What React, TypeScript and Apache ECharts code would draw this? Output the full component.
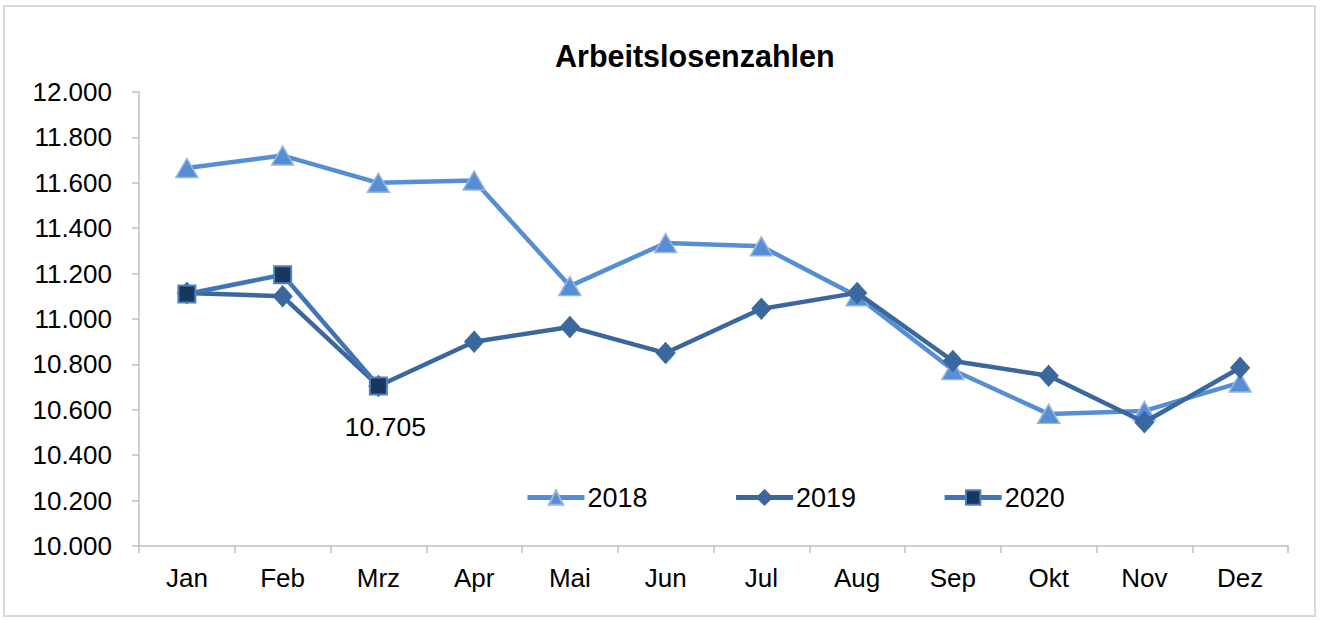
import React, { useEffect, useRef } from "react";
import * as echarts from "echarts";

const months = ["Jan", "Feb", "Mrz", "Apr", "Mai", "Jun", "Jul", "Aug", "Sep", "Okt", "Nov", "Dez"];
const s2018 = [11665, 11720, 11600, 11610, 11145, 11335, 11320, 11100, 10775, 10582, 10595, 10720];
const s2019 = [11115, 11100, 10705, 10900, 10965, 10850, 11045, 11115, 10815, 10750, 10545, 10785];
const s2020 = [11110, 11195, 10705, null, null, null, null, null, null, null, null, null];
const yTicks = { min: 10000, max: 12000, interval: 200 };

const fmt = (v: number) => {
  const s = Math.round(v).toString();
  return s.slice(0, s.length - 3) + "." + s.slice(-3);
};

export default function App() {
  const ref = useRef<HTMLDivElement>(null);
  useEffect(() => {
    const chart = echarts.init(ref.current!, null, { renderer: "svg" });
    const font = "'Liberation Sans', Arial, sans-serif";
    chart.setOption({
      animation: false,
      backgroundColor: "#ffffff",
      textStyle: { fontFamily: font },
      title: {
        text: "Arbeitslosenzahlen",
        left: 550,
        top: 35,
        textStyle: { fontSize: 30.5, fontWeight: "bold", color: "#000", fontFamily: font },
      },
      graphic: [
        {
          type: "rect",
          shape: { x: 4, y: 6, width: 1311, height: 610 },
          style: { fill: "none", stroke: "#d9d9d9", lineWidth: 2 },
          silent: true,
        },
      ],
      legend: {
        top: 484,
        left: 525,
        padding: 0,
        itemWidth: 57,
        itemHeight: 18,
        itemGap: 86,
        lineStyle: { width: 5 },
        textStyle: { fontSize: 27, color: "#000", fontFamily: font, padding: [0, 0, 0, -2] },
        data: ["2018", "2019", "2020"],
      },
      grid: { left: 139, right: 32, top: 92, bottom: 75 },
      xAxis: {
        type: "category",
        data: months,
        boundaryGap: true,
        axisLine: { lineStyle: { color: "#bfbfbf", width: 1.5 } },
        axisTick: { show: true, length: 7, lineStyle: { color: "#bfbfbf", width: 1.5 } },
        axisLabel: { fontSize: 26, color: "#000", margin: 19, fontFamily: font },
      },
      yAxis: {
        type: "value",
        min: yTicks.min,
        max: yTicks.max,
        interval: yTicks.interval,
        axisLine: { show: true, lineStyle: { color: "#bfbfbf", width: 1.5 } },
        axisTick: { show: true, length: 7, lineStyle: { color: "#bfbfbf", width: 1.5 } },
        splitLine: { show: false },
        axisLabel: { fontSize: 26, color: "#000", margin: 27, fontFamily: font, formatter: (v: number) => fmt(v) },
      },
      series: [
        {
          name: "2018",
          type: "line",
          data: s2018,
          symbol: "triangle",
          symbolSize: [22, 19],
          lineStyle: { color: "#558ED5", width: 4.5 },
          itemStyle: { color: "#558ED5", borderColor: "#9DB5DC", borderWidth: 1.5 },
          z: 2,
        },
        {
          name: "2019",
          type: "line",
          data: s2019,
          symbol: "diamond",
          symbolSize: [19, 21],
          lineStyle: { color: "#3A679E", width: 4.5 },
          itemStyle: { color: "#3A679E", borderColor: "#3A679E", borderWidth: 1 },
          z: 3,
        },
        {
          name: "2020",
          type: "line",
          data: s2020,
          symbol: "rect",
          symbolSize: 17,
          connectNulls: false,
          lineStyle: { color: "#3F74B8", width: 4.5 },
          itemStyle: { color: "#17375E", borderColor: "#4F81BD", borderWidth: 2 },
          label: {
            show: true,
            position: "bottom",
            distance: 18,
            offset: [7, 0],
            fontSize: 26.5,
            color: "#000",
            fontFamily: font,
            formatter: (p: any) => (p.dataIndex === 2 ? fmt(p.value) : ""),
          },
          z: 4,
        },
      ],
    });
    return () => chart.dispose();
  }, []);
  return <div ref={ref} style={{ position: "fixed", left: 0, top: 0, width: 1320, height: 621 }} />;
}
